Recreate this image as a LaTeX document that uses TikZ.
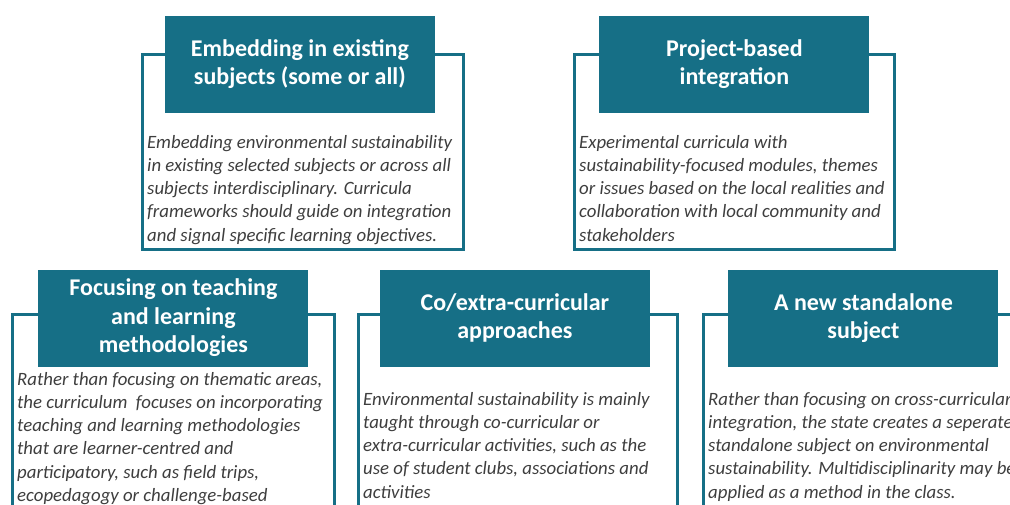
\documentclass[tikz,border=0pt]{standalone}
\usepackage{fontspec}
\setmainfont{Carlito}
\usetikzlibrary{positioning}
\definecolor{petrol}{RGB}{22,111,134}
\definecolor{ink}{RGB}{62,62,62}
\tikzset{
  frm/.style ={rectangle, draw=petrol, line width=2.8pt, anchor=north west, inner sep=0pt},
  hdr/.style ={rectangle, fill=petrol, text=white, align=center, minimum width=270,
               minimum height=97, inner sep=0pt, font=\bfseries\fontsize{24}{28.5}\selectfont},
  txt/.style ={anchor=north west, align=left, inner sep=0pt, text=ink,
               font=\itshape\fontsize{18.8}{23.2}\selectfont},
}
\begin{document}
\begin{tikzpicture}[x=1pt,y=1pt]
\useasboundingbox (0,0) rectangle (1010,-504);
\clip (0,0) rectangle (1010,-504);
\node[frm, minimum width=321, minimum height=195] (f1) at (141,-53) {};
\node[frm, minimum width=320, minimum height=195] (f2) at (573,-53) {};
\node[frm, minimum width=322, minimum height=260] (f3) at (11,-313) {};
\node[frm, minimum width=319, minimum height=260] (f4) at (357,-313) {};
\node[frm, minimum width=320, minimum height=260] (f5) at (702,-313) {};
\node[hdr] (h1) at ([xshift=-3,yshift=-11]f1.north) {Embedding in existing\\subjects (some or all)};
\node[hdr] (h2) at ([yshift=-11]f2.north) {Project-based\\integration};
\node[hdr] (h3) at ([yshift=-5]f3.north) {Focusing on teaching\\and learning\\methodologies};
\node[hdr] (h4) at ([xshift=-3,yshift=-5]f4.north) {Co/extra-curricular\\approaches};
\node[hdr] (h5) at ([yshift=-5]f5.north) {A new standalone\\subject};
\node[txt] (t1) at ([xshift=6,yshift=-82]f1.north west) {Embedding environmental sustainability\\in existing selected subjects or across all\\subjects interdisciplinary. Curricula\\frameworks should guide on integration\\and signal specific learning objectives.};
\node[txt] (t2) at ([xshift=6,yshift=-82]f2.north west) {Experimental curricula with\\sustainability-focused modules, themes\\or issues based on the local realities and\\collaboration with local community and\\stakeholders};
\node[txt] (t3) at ([xshift=6,yshift=-59]f3.north west) {Rather than focusing on thematic areas,\\the curriculum\ \ focuses on incorporating\\teaching and learning methodologies\\that are learner-centred and\\participatory, such as field trips,\\ecopedagogy or challenge-based};
\node[txt] (t4) at ([xshift=6,yshift=-79]f4.north west) {Environmental sustainability is mainly\\taught through co-curricular or\\extra-curricular activities, such as the\\use of student clubs, associations and\\activities};
\node[txt] (t5) at ([xshift=6,yshift=-79]f5.north west) {Rather than focusing on cross-curricular\\integration, the state creates a seperate\\standalone subject on environmental\\sustainability. Multidisciplinarity may be\\applied as a method in the class.};
\end{tikzpicture}
\end{document}
